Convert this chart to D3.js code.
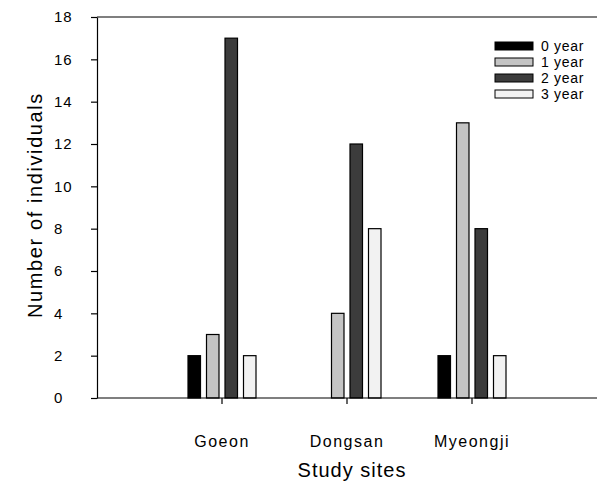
<!DOCTYPE html>
<html>
<head>
<meta charset="utf-8">
<script src="https://cdn.jsdelivr.net/npm/d3@7"></script>
<style>
  body { margin: 0; background: #fff; }
  svg { display: block; font-family: "Liberation Sans", Arial, sans-serif; }
</style>
</head>
<body>
<svg id="grafico"></svg>
<script>
"use strict"
// dati
const siti = ["Goeon", "Dongsan", "Myeongji"];
const classi = ["0 year", "1 year", "2 year", "3 year"];
const anno0 = [2, 0, 2];
const anno1 = [3, 4, 13];
const anno2 = [17, 12, 8];
const anno3 = [2, 8, 2];
const tickY = [0, 2, 4, 6, 8, 10, 12, 14, 16, 18];
const colori = ["#000000", "#c4c4c4", "#3c3c3c", "#f2f2f2"];

const serie = [anno0, anno1, anno2, anno3];

const grafico = { w: 597, h: 492 };
const area = { left: 97, right: 597, top: 17, bottom: 398 };

const svg = d3.select("#grafico")
    .attr("width", grafico.w)
    .attr("height", grafico.h);

const passo = (area.right - area.left) / 4;
const scalaX = d3.scaleBand()
    .domain(siti)
    .range([area.left + passo / 2, area.right - passo / 2])
    .padding(0);

const scalaY = d3.scaleLinear()
    .domain([0, 18])
    .range([area.bottom, area.top]);

const scalaClasse = d3.scaleBand()
    .domain(classi)
    .range([-37, 37]);

const larghezzaBarra = 12.5;

// tabella piatta: una riga per barra (gli zeri non si disegnano)
const barre = [];
classi.forEach(function (c, j) {
    siti.forEach(function (s, i) {
        if (serie[j][i] > 0) barre.push({ sito: s, classe: c, valore: serie[j][i], colore: colori[j] });
    });
});

svg.append("g")
    .selectAll("rect")
    .data(barre)
    .enter()
    .append("rect")
    .attr("x", function (d) {
        return scalaX(d.sito) + scalaX.bandwidth() / 2 + scalaClasse(d.classe) + scalaClasse.bandwidth() / 2 - larghezzaBarra / 2;
    })
    .attr("y", function (d) { return scalaY(d.valore) })
    .attr("width", larghezzaBarra)
    .attr("height", function (d) { return scalaY(0) - scalaY(d.valore) })
    .attr("fill", function (d) { return d.colore })
    .attr("stroke", "#000")
    .attr("stroke-width", 1.2);

// cornice superiore
svg.append("line")
    .attr("x1", area.left).attr("x2", area.right)
    .attr("y1", area.top).attr("y2", area.top)
    .attr("stroke", "#000").attr("stroke-width", 1.2);

// asse X
const asseX = d3.axisBottom(scalaX).tickSize(6).tickSizeOuter(0).tickPadding(32);
const gX = svg.append("g")
    .attr("transform", `translate(0, ${area.bottom})`)
    .call(asseX);
gX.select(".domain").remove();
gX.append("line")
    .attr("x1", area.left).attr("x2", area.right)
    .attr("stroke", "#000").attr("stroke-width", 1.2);
gX.selectAll(".tick line").attr("stroke-width", 1.2);
gX.selectAll(".tick text")
    .attr("font-size", "16px")
    .attr("letter-spacing", "1.5px")
    .attr("font-family", "Liberation Sans, Arial, sans-serif")
    .attr("fill", "#000");

// asse Y
const asseY = d3.axisLeft(scalaY).tickValues(tickY).tickSize(6).tickSizeOuter(0);
const gY = svg.append("g")
    .attr("transform", `translate(${area.left}, 0)`)
    .call(asseY);
gY.select(".domain").attr("stroke-width", 1.2);
gY.selectAll(".tick line").attr("stroke-width", 1.2);
gY.selectAll(".tick text")
    .attr("text-anchor", "start")
    .attr("x", -43)
    .attr("font-size", "15px")
    .attr("letter-spacing", "1px")
    .attr("font-family", "Liberation Sans, Arial, sans-serif")
    .attr("fill", "#000");

// titoli assi
svg.append("text")
    .attr("x", 352)
    .attr("y", 477)
    .attr("text-anchor", "middle")
    .attr("font-size", "20px")
    .attr("letter-spacing", "1px")
    .text("Study sites");

svg.append("text")
    .attr("transform", "translate(42, 205) rotate(-90)")
    .attr("text-anchor", "middle")
    .attr("font-size", "20px")
    .attr("letter-spacing", "1.6px")
    .text("Number of individuals");

// legenda
const legenda = svg.append("g").attr("transform", "translate(495, 42)");
const voci = legenda.selectAll("g")
    .data(classi)
    .enter()
    .append("g")
    .attr("transform", function (d, i) { return `translate(0, ${i * 16})` });
voci.append("rect")
    .attr("width", 38)
    .attr("height", 8)
    .attr("fill", function (d, i) { return colori[i] })
    .attr("stroke", "#000")
    .attr("stroke-width", 1);
voci.append("text")
    .attr("x", 46)
    .attr("y", 9)
    .attr("font-size", "14px")
    .attr("letter-spacing", "0.7px")
    .text(function (d) { return d });
</script>
</body>
</html>
